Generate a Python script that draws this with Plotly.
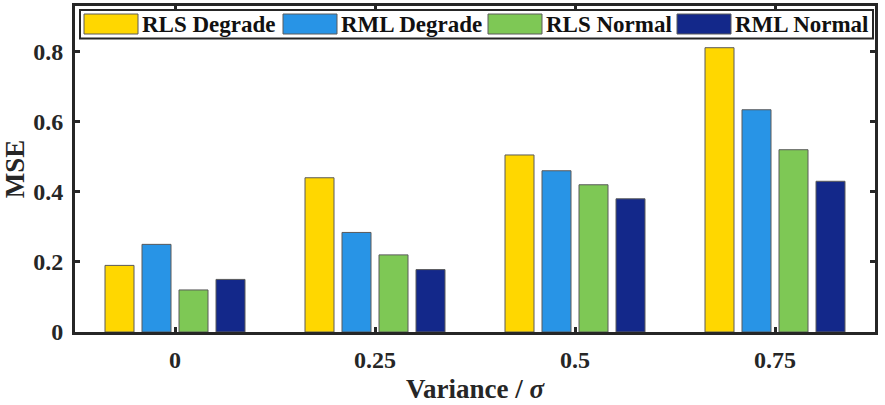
import plotly.graph_objects as go

categories = ["0", "0.25", "0.5", "0.75"]
series_names = ["RLS Degrade", "RML Degrade", "RLS Normal", "RML Normal"]
rls_degrade = [0.19, 0.44, 0.505, 0.811]
rml_degrade = [0.25, 0.284, 0.46, 0.634]
rls_normal = [0.12, 0.22, 0.42, 0.52]
rml_normal = [0.15, 0.178, 0.38, 0.43]
y_ticks = [0, 0.2, 0.4, 0.6, 0.8]
y_tick_labels = ["0", "0.2", "0.4", "0.6", "0.8"]

colors = ["#FFD700", "#2894E6", "#7EC855", "#13288A"]
series_values = [rls_degrade, rml_degrade, rls_normal, rml_normal]

FONT = "Liberation Serif"
AX = "#262626"
W, H = 885, 405
L, R, T, B = 75, 10, 6, 73
PW, PH = W - L - R, H - T - B

def px(x):
    return (x - L) / PW

def py(y):
    return (H - B - y) / PH

fig = go.Figure()
for name, vals, col in zip(series_names, series_values, colors):
    fig.add_trace(go.Bar(
        x=categories, y=vals, name=name,
        marker=dict(color=col, line=dict(color="#5a5a5a", width=1)),
        showlegend=False,
    ))

# custom legend (MATLAB style, wide swatches)
shapes = [dict(type="rect", xref="paper", yref="paper",
               x0=px(80), x1=px(873), y0=py(38.5), y1=py(10),
               line=dict(color=AX, width=2), fillcolor="white", layer="above")]
annotations = []
swatch_x = [84, 283, 488, 677]
for sx, name, col in zip(swatch_x, series_names, colors):
    shapes.append(dict(type="rect", xref="paper", yref="paper",
                       x0=px(sx), x1=px(sx + 54), y0=py(34), y1=py(14),
                       line=dict(color="#5a5a5a", width=1), fillcolor=col, layer="above"))
    annotations.append(dict(xref="paper", yref="paper", x=px(sx + 56), y=py(24),
                            xanchor="left", yanchor="middle", showarrow=False,
                            text=name, font=dict(family=FONT, size=23, color="#111", weight="bold")))

fig.update_layout(
    width=W, height=H,
    margin=dict(l=L, r=R, t=T, b=B, autoexpand=False),
    paper_bgcolor="white", plot_bgcolor="white",
    barmode="group", bargap=0.26, bargroupgap=0.216,
    font=dict(family=FONT, size=23, color="#262626", weight="bold"),
    shapes=shapes, annotations=annotations,
)
fig.update_xaxes(
    type="category", range=[-0.5, 3.5], automargin=False,
    showline=True, linewidth=3, linecolor=AX, mirror="ticks",
    ticks="inside", ticklen=5, tickwidth=3, tickcolor=AX,
    showgrid=False, zeroline=False, ticklabelstandoff=4,
    tickfont=dict(family=FONT, size=24, color="#262626", weight="bold"),
    title=dict(text="Variance / <i>σ</i>", standoff=8,
               font=dict(family=FONT, size=27, color="#262626", weight="bold")),
)
fig.update_yaxes(
    range=[0, 0.93], tickvals=y_ticks, ticktext=y_tick_labels, automargin=False,
    showline=True, linewidth=3, linecolor=AX, mirror="ticks",
    ticks="inside", ticklen=5, tickwidth=3, tickcolor=AX,
    showgrid=False, zeroline=False, ticklabelstandoff=4,
    tickfont=dict(family=FONT, size=24, color="#262626", weight="bold"),
    title=dict(text="MSE", standoff=6,
               font=dict(family=FONT, size=27, color="#262626", weight="bold")),
)

fig.write_html("out.html")
